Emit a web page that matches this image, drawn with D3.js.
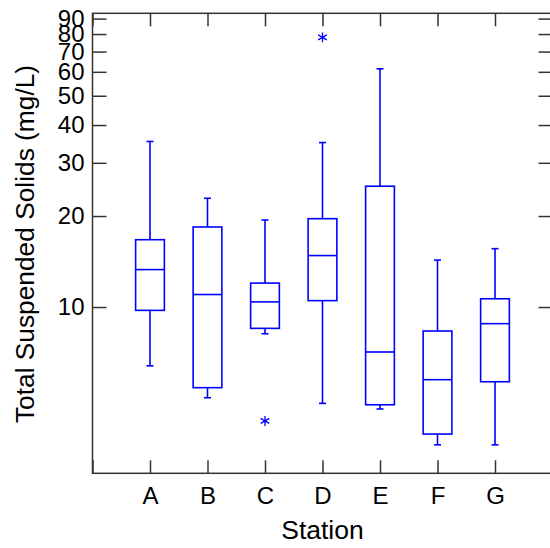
<!DOCTYPE html>
<html>
<head>
<meta charset="utf-8">
<script src="https://cdn.jsdelivr.net/npm/d3@7"></script>
<style>
  html, body { margin: 0; padding: 0; background: #fff; }
  svg { display: block; }
  text { font-family: "Liberation Sans", Arial, Helvetica, sans-serif; fill: #000; }
</style>
</head>
<body>
<svg id="chart" width="550" height="548"></svg>
<script>
// ---- data ----
const stations = ["A", "B", "C", "D", "E", "F", "G"];
const whiskerHigh = [35.3, 22.9, 19.4, 35.0, 61.4, 14.3, 15.6];
const q3          = [16.7, 18.4, 12.0, 19.6, 25.1, 8.33, 10.65];
const median      = [13.3, 11.0, 10.4, 14.8, 7.10, 5.75, 8.81];
const q1          = [9.75, 5.41, 8.50, 10.5, 4.75, 3.80, 5.66];
const whiskerLow  = [6.39, 5.01, 8.16, 4.80, 4.60, 3.50, 3.50];
const outlierStation = ["C", "D"];
const outlierValue   = [4.20, 78.0];
const yTickValues = [10, 20, 30, 40, 50, 60, 70, 80, 90];
const xTitle = "Station";
const yTitle = "Total Suspended Solids (mg/L)";

// ---- layout ----
const svg = d3.select("#chart");
const plotL = 92.5, plotR = 552.5, plotT = 13.3, plotB = 473.3;
const axisColor = "#333";
const boxColor = "#0000ff";

const x = d3.scaleLinear().domain([0, stations.length + 1]).range([plotL, plotR]);
const y = d3.scaleLog().domain([2.818, 93.7]).range([plotB, plotT]);

const xPos = s => x(stations.indexOf(s) + 1);
const boxHalf = (x(1) - x(0)) * 0.25;
const capHalf = 3.5;

// frame
svg.append("rect")
  .attr("x", plotL).attr("y", plotT)
  .attr("width", plotR - plotL).attr("height", plotB - plotT)
  .attr("fill", "none").attr("stroke", axisColor).attr("stroke-width", 1.5);

const fmt = d => String(d);
const xTickPositions = d3.range(0, stations.length + 2);

// bottom axis
const gB = svg.append("g").attr("transform", `translate(0,${plotB})`)
  .call(d3.axisBottom(x).tickValues(xTickPositions).tickSize(-13).tickPadding(14)
    .tickFormat(i => (i >= 1 && i <= stations.length) ? stations[i - 1] : ""));
// top axis
const gT = svg.append("g").attr("transform", `translate(0,${plotT})`)
  .call(d3.axisTop(x).tickValues(xTickPositions).tickSize(-13).tickFormat(""));
// left axis
const gL = svg.append("g").attr("transform", `translate(${plotL},0)`)
  .call(d3.axisLeft(y).tickValues(yTickValues).tickSize(-14).tickPadding(8).tickFormat(fmt));
// right axis
const gR = svg.append("g").attr("transform", `translate(${plotR},0)`)
  .call(d3.axisRight(y).tickValues(yTickValues).tickSize(-14).tickFormat(""));

[gB, gT, gL, gR].forEach(g => {
  g.select(".domain").remove();
  g.selectAll(".tick line").attr("stroke", axisColor).attr("stroke-width", 1.5);
  g.selectAll("text").attr("font-size", 24).attr("fill", "#000")
    .style("font-family", '"Liberation Sans", Arial, sans-serif');
});

// titles
svg.append("text")
  .attr("x", (plotL + plotR) / 2).attr("y", 539)
  .attr("text-anchor", "middle").attr("font-size", 26.5)
  .text(xTitle);
svg.append("text")
  .attr("transform", `translate(33.5,244) rotate(-90)`)
  .attr("text-anchor", "middle").attr("font-size", 26.3)
  .text(yTitle);

// boxes
const boxes = svg.append("g").attr("fill", "none").attr("stroke", boxColor).attr("stroke-width", 1.6);
stations.forEach((s, i) => {
  const cx = xPos(s);
  const g = boxes.append("g");
  g.append("line").attr("x1", cx).attr("x2", cx).attr("y1", y(q3[i])).attr("y2", y(whiskerHigh[i]));
  g.append("line").attr("x1", cx).attr("x2", cx).attr("y1", y(q1[i])).attr("y2", y(whiskerLow[i]));
  g.append("line").attr("x1", cx - capHalf).attr("x2", cx + capHalf).attr("y1", y(whiskerHigh[i])).attr("y2", y(whiskerHigh[i]));
  g.append("line").attr("x1", cx - capHalf).attr("x2", cx + capHalf).attr("y1", y(whiskerLow[i])).attr("y2", y(whiskerLow[i]));
  g.append("rect").attr("x", cx - boxHalf).attr("width", boxHalf * 2)
    .attr("y", y(q3[i])).attr("height", y(q1[i]) - y(q3[i])).attr("fill", "#fff");
  g.append("line").attr("x1", cx - boxHalf).attr("x2", cx + boxHalf).attr("y1", y(median[i])).attr("y2", y(median[i]));
});

// outliers
const star = d3.symbol().type(d3.symbolAsterisk).size(70);
outlierStation.forEach((s, i) => {
  svg.append("path").attr("d", star())
    .attr("transform", `translate(${xPos(s)},${y(outlierValue[i])})`)
    .attr("fill", "none").attr("stroke", boxColor).attr("stroke-width", 1.3);
});
</script>
</body>
</html>
